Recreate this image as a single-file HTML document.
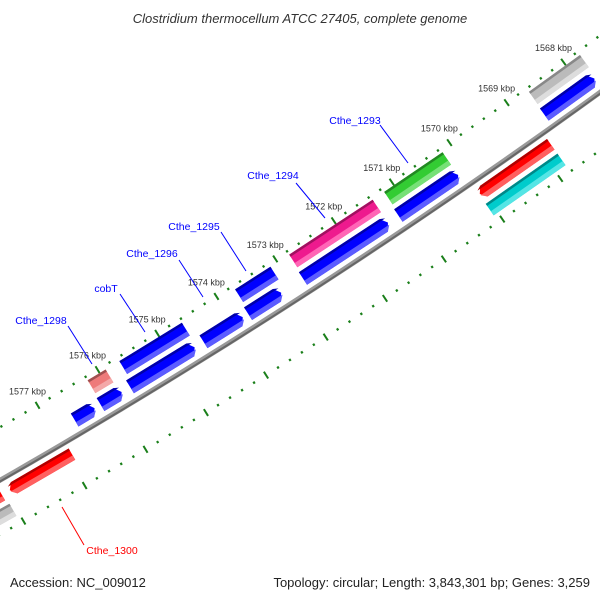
<!DOCTYPE html>
<html><head><meta charset="utf-8"><style>
html,body{margin:0;padding:0;background:#fff;}
svg{display:block;font-family:"Liberation Sans",sans-serif;}
</style></head><body>
<svg id="map" width="600" height="600" viewBox="0 0 600 600">
<text x="300" y="23" text-anchor="middle" font-size="13" font-style="italic" fill="#333">Clostridium thermocellum ATCC 27405, complete genome</text>
<g id="rings"></g>
<g id="feats"></g>
<g id="labels"></g>
<text x="10" y="587" font-size="13" fill="#222">Accession: NC_009012</text>
<text x="590" y="587" font-size="13" fill="#222" text-anchor="end">Topology: circular; Length: 3,843,301 bp; Genes: 3,259</text>
</svg>
<script>
const tickKbp = [1566,1567,1568,1569,1570,1571,1572,1573,1574,1575,1576,1577,1578,1579];
const tickLabels = ["1568 kbp","1569 kbp","1570 kbp","1571 kbp","1572 kbp","1573 kbp","1574 kbp","1575 kbp","1576 kbp","1577 kbp"];
const tickLabelKbp = [1568,1569,1570,1571,1572,1573,1574,1575,1576,1577];
const featStart = [1567.75,1570.16,1571.37,1573.12,1574.62,1575.9, 1567.78,1570.16,1571.37,1573.19,1573.84,1574.65,1575.87,1576.32, 1576.93,1578.08,1568.83, 1568.83,1578.05];
const featEnd   = [1568.65,1571.17,1572.8, 1573.72,1575.67,1576.2, 1568.66,1571.19,1572.82,1573.75,1574.5, 1575.73,1576.22,1576.65, 1577.95,1579.5, 1570.06, 1570.07,1579.5];
const featTrack = [2,2,2,2,2,2, 1,1,1,1,1,1,1,1, 3,3,3, 4,4];
const featColor = ["gray","green","pink","blue","blue","salmon","blue","blue","blue","blue","blue","blue","blue","blue","red","red","red","cyan","gray"];
const featDir   = [0,0,0,0,0,0, -1,-1,-1,-1,-1,-1,-1,-1, 1,1,1, 0,0];
const geneNames = ["Cthe_1293","Cthe_1294","Cthe_1295","Cthe_1296","cobT","Cthe_1298","Cthe_1300"];
const geneKbp   = [1570.7,1572.1,1573.4,1574.1,1575.2,1576.05,1577.5];

const CX=-3333, CY=-5333;
const NS="http://www.w3.org/2000/svg";
function ang(k){return 58.97+(k-1576)*0.601;}
function pt(k,r){const a=ang(k)*Math.PI/180;return [CX+r*Math.cos(a), CY+r*Math.sin(a)];}
function mk(tag,attrs,parent){const e=document.createElementNS(NS,tag);for(const k in attrs)e.setAttribute(k,attrs[k]);parent.appendChild(e);return e;}
const rings=document.getElementById('rings'), feats=document.getElementById('feats'), labels=document.getElementById('labels');

(function(){
  let d="";for(let k=1565;k<=1580;k+=0.25){const p=pt(k,6701);d+=(d?"L":"M")+p[0].toFixed(2)+","+p[1].toFixed(2);}
  const b=mk('path',{d:d,stroke:'#999','stroke-width':5,fill:'none'},rings);
  
  
  const b2=mk('path',{d:d,stroke:'#666','stroke-width':2,fill:'none',transform:'translate(0.6,0.9)'},rings);
  
  
})();

[[6655,'outer'],[6748,'inner']].forEach(function(rr){
  const r=rr[0];
  for(let i=0;i<tickKbp.length;i++){
    for(let j=0;j<5;j++){
      const k=tickKbp[i]+j*0.2;
      if(j===0){
        const a=pt(k,r-4),b=pt(k,r+4);
        const l=mk('line',{x1:a[0],y1:a[1],x2:b[0],y2:b[1],stroke:'#1a7f1a','stroke-width':2},rings);
        
        
      } else {
        const a=pt(k,r-1.2),b=pt(k,r+1.2);
        const l=mk('line',{x1:a[0],y1:a[1],x2:b[0],y2:b[1],stroke:'#1a7f1a','stroke-width':2.2},rings);
        
        
      }
    }
  }
});
for(let i=0;i<tickLabels.length;i++){
  const p=pt(tickLabelKbp[i],6655);
  const t=mk('text',{x:p[0]-10,y:p[1]-11,'text-anchor':'middle','font-size':9,fill:'#333'},rings);
  t.textContent=tickLabels[i];
  
  
}

const trackR={1:[6679,6694],2:[6659,6674],3:[6708,6721],4:[6726,6740]};
const pal={blue:['#0000ff','#0000a8','#5c5cff'],green:['#33cc33','#228822','#77e077'],pink:['#ee1a8e','#a01060','#ff66b6'],
 gray:['#bbbbbb','#888888','#dddddd'],salmon:['#ee7a7a','#a05050','#f4a8a8'],red:['#ff0000','#b00000','#ff6060'],cyan:['#00cccc','#008888','#55e5e5']};
const PXK=6700*0.601*Math.PI/180;
for(let i=0;i<featStart.length;i++){
  const s=featStart[i], e=featEnd[i], tr=trackR[featTrack[i]], c=pal[featColor[i]], dir=featDir[i];
  const r0=tr[0], r1=tr[1];
  const tip=5/PXK;
  function poly(a,b){
    const mid=(r0+r1)/2;
    let P=[];
    if(dir===-1){P=[pt(e,a),pt(s+tip,a),pt(s,Math.min(Math.max(mid,a),b)),pt(s+tip,b),pt(e,b)];}
    else if(dir===1){P=[pt(s,a),pt(e-tip,a),pt(e,Math.min(Math.max(mid,a),b)),pt(e-tip,b),pt(s,b)];}
    else P=[pt(s,a),pt(e,a),pt(e,b),pt(s,b)];
    return P.map(p=>p[0].toFixed(2)+","+p[1].toFixed(2)).join(" ");
  }
  const g=mk('g',{},feats);
  
  
  const p1=mk('polygon',{points:poly(r0,r1),fill:c[0]},g);
  
  
  const p2=mk('polygon',{points:poly(r1-5,r1),fill:c[2]},g);
  
  
  const p3=mk('polygon',{points:poly(r0,r0+2.5),fill:c[1]},g);
  
  
}

const labelXY=[[355,124],[273,179],[194,230],[152,257],[106,292],[41,324],[112,554]];
const lineXY=[[380,125,408,163],[296,183,325,218],[221,232,246,271],[179,260,203,297],[120,294,145,332],[68,326,92,364],[62,507,84,545]];
for(let i=0;i<geneNames.length;i++){
  const col=i===6?'#ff0000':'#0000ff';
  const L=lineXY[i];
  const l=mk('line',{x1:L[0],y1:L[1],x2:L[2],y2:L[3],stroke:col,'stroke-width':1},labels);
  
  
  const t=mk('text',{x:labelXY[i][0],y:labelXY[i][1],'text-anchor':'middle','font-size':10.5,fill:col},labels);
  t.textContent=geneNames[i];
  
  
}
</script>
</body></html>
